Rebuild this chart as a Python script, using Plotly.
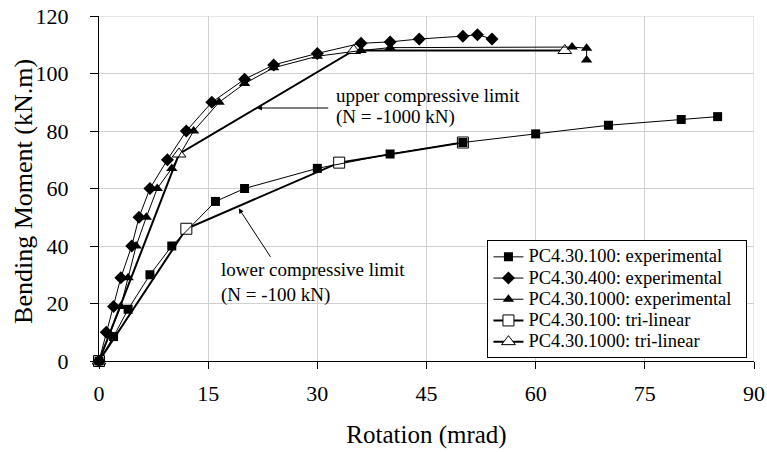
import plotly.graph_objects as go

# PC4.30.100 experimental (filled squares)
x100 = [0, 2, 4, 7, 10, 16, 20, 30, 40, 50, 60, 70, 80, 85]
y100 = [0, 8.5, 18, 30, 40, 55.5, 60, 67, 72, 76, 79, 82, 84, 85]
# PC4.30.400 experimental (filled diamonds)
x400 = [0, 1, 2, 3, 4.5, 5.5, 7, 9.4, 12, 15.5, 20, 24, 30, 36, 40, 44, 50, 52, 54]
y400 = [0, 10, 19, 29, 40, 50, 60, 70, 80, 90, 98, 103, 107, 110.5, 111, 112, 113, 113.5, 112]
# PC4.30.1000 experimental (filled triangles)
x1000 = [0, 3, 4, 5.1, 6.5, 8, 10, 13, 16.5, 20, 24, 30, 36, 40, 65, 67, 67]
y1000 = [0, 19, 29, 40, 50, 60, 67, 80, 90, 96.5, 102, 106, 108, 109, 109.2, 108.8, 104.7]
# tri-linear models
xt100 = [0, 12, 33, 50]
yt100 = [0, 46, 69, 76]
xt1000 = [0, 11, 35, 64]
yt1000 = [0, 72, 108, 108]

names = ["PC4.30.100: experimental", "PC4.30.400: experimental",
         "PC4.30.1000: experimental", "PC4.30.100: tri-linear",
         "PC4.30.1000: tri-linear"]

X_MAX = 90
Y_MAX = 120

FONT = "Liberation Serif, Times New Roman, serif"
GRID = "#d0d0d0"


def lname(s):
    return '<span style="font-size:18.5px">' + s + '&nbsp;&nbsp;</span>'


fig = go.Figure()

fig.add_trace(go.Scatter(x=xt100, y=yt100, name=lname(names[3]), mode="lines+markers",
                         line=dict(color="black", width=2),
                         marker=dict(symbol="square", size=11, color="white",
                                     line=dict(color="black", width=1)),
                         cliponaxis=False, legendrank=4))
fig.add_trace(go.Scatter(x=xt1000, y=yt1000, name=lname(names[4]), mode="lines+markers",
                         line=dict(color="black", width=2),
                         marker=dict(symbol="triangle-up", size=12, color="white",
                                     line=dict(color="black", width=1)),
                         cliponaxis=False, legendrank=5))
fig.add_trace(go.Scatter(x=x100, y=y100, name=lname(names[0]), mode="lines+markers",
                         line=dict(color="black", width=1),
                         marker=dict(symbol="square", size=9, color="black"),
                         cliponaxis=False, legendrank=1))
fig.add_trace(go.Scatter(x=x400, y=y400, name=lname(names[1]), mode="lines+markers",
                         line=dict(color="black", width=1),
                         marker=dict(symbol="diamond", size=10, color="black"),
                         cliponaxis=False, legendrank=2))
fig.add_trace(go.Scatter(x=x1000, y=y1000, name=lname(names[2]), mode="lines+markers",
                         line=dict(color="black", width=1),
                         marker=dict(symbol="triangle-up", size=10, color="black"),
                         cliponaxis=False, legendrank=3))

# border gridlines at the top and right of the plotting area
fig.add_shape(type="line", xref="paper", yref="y", x0=0, x1=1, y0=Y_MAX, y1=Y_MAX,
              line=dict(color=GRID, width=1), layer="below")
fig.add_shape(type="line", xref="x", yref="paper", x0=X_MAX, x1=X_MAX, y0=0, y1=1,
              line=dict(color=GRID, width=1), layer="below")

# annotations
ann_font = dict(family=FONT, size=19, color="black")
fig.add_annotation(x=21.7, y=88, ax=31.7, ay=88, xref="x", yref="y", axref="x", ayref="y",
                   text="", showarrow=True, arrowhead=2, arrowsize=1, arrowwidth=1, arrowcolor="black")
fig.add_annotation(x=19.2, y=53.1, ax=23.7, ay=35.7, xref="x", yref="y", axref="x", ayref="y",
                   text="", showarrow=True, arrowhead=2, arrowsize=1, arrowwidth=1, arrowcolor="black")
fig.add_annotation(x=32.3, y=92.5, text="upper compressive limit", showarrow=False,
                   xanchor="left", yanchor="middle", font=ann_font)
fig.add_annotation(x=32.3, y=84.9, text="(N = -1000 kN)", showarrow=False,
                   xanchor="left", yanchor="middle", font=ann_font)
fig.add_annotation(x=16.5, y=31.7, text="lower compressive limit", showarrow=False,
                   xanchor="left", yanchor="middle", font=ann_font)
fig.add_annotation(x=16.5, y=23.0, text="(N = -100 kN)", showarrow=False,
                   xanchor="left", yanchor="middle", font=ann_font)
# y-axis title
fig.add_annotation(x=0, y=0.49, xref="paper", yref="paper", xshift=-75,
                   text="Bending Moment (kN.m)", textangle=-90, showarrow=False,
                   xanchor="center", yanchor="middle",
                   font=dict(family=FONT, size=26, color="black"))

fig.update_layout(
    width=767, height=452,
    margin=dict(l=99, r=13, t=16, b=91),
    paper_bgcolor="white", plot_bgcolor="white",
    font=dict(family=FONT, color="black"),
    showlegend=True,
    legend=dict(x=0.99, y=0.35, xanchor="right", yanchor="top",
                bgcolor="white", bordercolor="black", borderwidth=1,
                font=dict(family=FONT, size=14, color="black"),
                itemwidth=30, tracegroupgap=0),
    xaxis=dict(range=[0, X_MAX], dtick=15, tick0=0, showgrid=True, gridcolor=GRID,
               gridwidth=1, showline=True, linecolor="black", linewidth=1,
               zeroline=False, ticks="outside", ticklen=7, tickcolor="black",
               ticklabelstandoff=6, automargin=False, ticklabeloverflow="allow",
               tickfont=dict(family=FONT, size=22, color="black"),
               title=dict(text="Rotation (mrad)", font=dict(family=FONT, size=25, color="black"), standoff=20)),
    yaxis=dict(range=[0, Y_MAX], dtick=20, tick0=0, showgrid=True, gridcolor=GRID,
               gridwidth=1, showline=True, linecolor="black", linewidth=1,
               zeroline=False, ticks="outside", ticklen=8, tickcolor="black",
               ticklabelstandoff=17, automargin=False, ticklabeloverflow="allow",
               tickfont=dict(family=FONT, size=22, color="black")),
)

# remove the default 8px page margin so the figure sits at the window's corner
fig.write_html("out.html", config={"displayModeBar": False},
               post_script="document.body.style.margin='0';")
